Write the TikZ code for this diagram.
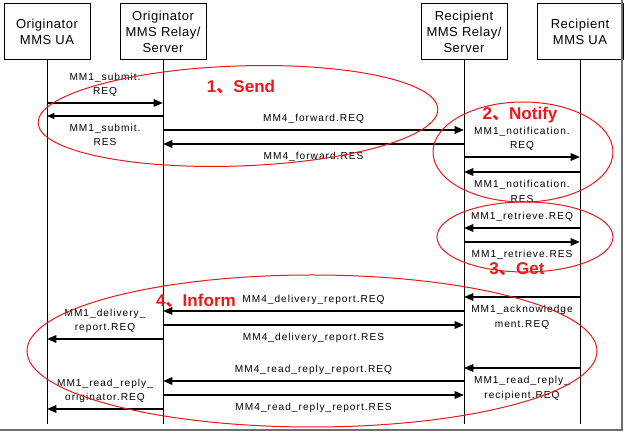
\documentclass[tikz,border=0pt]{standalone}
\usepackage{fontspec}
\setmainfont{Liberation Sans}
\newfontfamily\msgfont[LetterSpace=10]{Liberation Sans}
\newfontfamily\headfont[LetterSpace=4]{Liberation Sans}
\newfontfamily\cjkfont{Noto Sans CJK SC}
\usetikzlibrary{arrows.meta,positioning}
\definecolor{phasered}{RGB}{235,25,25}
\definecolor{shadowgray}{RGB}{110,110,110}

\begin{document}
\begin{tikzpicture}[
    x=0.75pt, y=-0.75pt,
    entity/.style={rectangle, draw, line width=0.75pt, minimum width=64.5pt,
                   minimum height=42pt, inner sep=0pt, align=center,
                   font=\headfont\fontsize{9.75}{12.2}\selectfont},
    lifeline/.style={line width=0.75pt},
    msg/.style={-{Triangle[length=7pt,width=5.5pt]}, line width=1.5pt},
    thinmsg/.style={-{Triangle[length=5.5pt,width=4.5pt]}, line width=0.8pt},
    lbl/.style={inner sep=0pt, align=center, font=\msgfont\fontsize{7.6}{10.9}\selectfont},
    lblup/.style={lbl, above=4pt},
    lbldown/.style={lbl, below=5.5pt},
    phase/.style={draw=phasered, line width=0.75pt},
    phaselbl/.style={text=phasered, inner sep=0pt, font=\bfseries\fontsize{12.8}{14}\selectfont},
]
    \useasboundingbox (0,0) rectangle (626,434);

    % the four parties
    \node[entity] (oua) at (47,32) {Originator\\MMS UA};
    \node[entity, right=21.75pt of oua] (ors) {Originator\\MMS Relay/\\Server};
    \node[entity, right=160.5pt of ors] (rrs) {Recipient\\MMS Relay/\\Server};
    \node[entity, right=21.75pt of rrs] (rua) {Recipient\\MMS UA};

    \coordinate (bottom) at (0,424);
    \draw[lifeline] (oua.south) -- (oua |- bottom);
    \draw[lifeline] (ors.south) -- (ors |- bottom);
    \draw[lifeline] (rrs.south) -- (rrs |- bottom);
    \draw[lifeline] (rua.south) -- (rua |- bottom);

    % message rows
    \coordinate (t1) at (0,103);
    \coordinate (t2) at (0,116);
    \coordinate (t3) at (0,130);
    \coordinate (t4) at (0,144);
    \coordinate (t5) at (0,157);
    \coordinate (t6) at (0,172);
    \coordinate (t7) at (0,228);
    \coordinate (t8) at (0,242);
    \coordinate (t9) at (0,297);
    \coordinate (t10) at (0,311);
    \coordinate (t11) at (0,325);
    \coordinate (t12) at (0,339);
    \coordinate (t13) at (0,368);
    \coordinate (t14) at (0,381);
    \coordinate (t15) at (0,395);
    \coordinate (t16) at (0,409);

    % 1. send
    \draw[msg] (oua |- t1) -- node[lblup] {MM1\_submit.\\REQ} (ors |- t1);
    \draw[thinmsg] (ors |- t2) -- node[lbldown] {MM1\_submit.\\RES} (oua |- t2);
    \draw[msg] (ors |- t3) -- node[lblup] {MM4\_forward.REQ} (rrs |- t3);
    \draw[msg] (rrs |- t4) -- node[lbldown] {MM4\_forward.RES} (ors |- t4);

    % 2. notify
    \draw[msg] (rrs |- t5) -- node[lblup] {MM1\_notification.\\REQ} (rua |- t5);
    \draw[msg] (rua |- t6) -- node[lbldown] {MM1\_notification.\\RES} (rrs |- t6);

    % 3. get
    \draw[msg] (rua |- t7) -- node[lblup] {MM1\_retrieve.REQ} (rrs |- t7);
    \draw[msg] (rrs |- t8) -- node[lbldown] {MM1\_retrieve.RES} (rua |- t8);

    % 4. inform
    \draw[msg] (rua |- t9) -- node[lbldown] {MM1\_acknowledge\\ment.REQ} (rrs |- t9);
    \draw[msg] (rrs |- t10) -- node[lblup] {MM4\_delivery\_report.REQ} (ors |- t10);
    \draw[msg] (ors |- t11) -- node[lbldown] {MM4\_delivery\_report.RES} (rrs |- t11);
    \draw[msg] (ors |- t12) -- node[lblup] {MM1\_delivery\_\\report.REQ} (oua |- t12);
    \draw[msg] (rua |- t13) -- node[lbldown] {MM1\_read\_reply\_\\recipient.REQ} (rrs |- t13);
    \draw[msg] (rrs |- t14) -- node[lblup] {MM4\_read\_reply\_report.REQ} (ors |- t14);
    \draw[msg] (ors |- t15) -- node[lbldown] {MM4\_read\_reply\_report.RES} (rrs |- t15);
    \draw[msg] (ors |- t16) -- node[lblup] {MM1\_read\_reply\_\\originator.REQ} (oua |- t16);

    % phase rings
    \draw[phase, rotate around={2:(238,116)}] (238,116) ellipse [x radius=200, y radius=50];
    \draw[phase] (523,152) ellipse [x radius=90, y radius=50];
    \draw[phase] (525,237) ellipse [x radius=88, y radius=35];
    \draw[phase] (312,351) ellipse [x radius=285, y radius=76];

    \node[phaselbl] (send) at (241,87) {1{\cjkfont 、}Send};
    \node[phaselbl] (notify) at (520,115) {2{\cjkfont 、}Notify};
    \node[phaselbl] (get) at (517,269) {3{\cjkfont 、}Get};
    \node[phaselbl] (inform) at (196,301) {4{\cjkfont 、}Inform};

    % window shadow
    \draw[shadowgray, line width=2.2pt] (0,430) -- (622,430) -- (622,0);
\end{tikzpicture}
\end{document}
